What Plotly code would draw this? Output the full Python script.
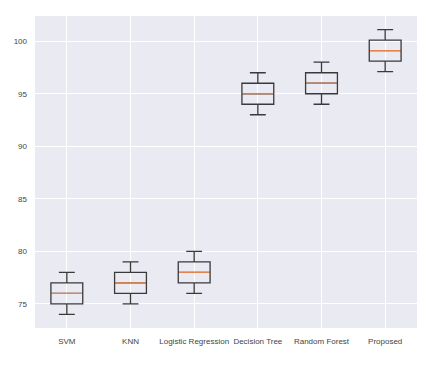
import plotly.graph_objects as go

categories = ["SVM", "KNN", "Logistic Regression", "Decision Tree", "Random Forest", "Proposed"]
lower_whisker = [74, 75, 76, 93, 94, 97.1]
q1 = [75, 76, 77, 94, 95, 98.1]
median = [76, 77, 78, 95, 96, 99.1]
q3 = [77, 78, 79, 96, 97, 100.1]
upper_whisker = [78, 79, 80, 97, 98, 101.1]
y_ticks = [75, 80, 85, 90, 95, 100]

fig = go.Figure()
fig.add_trace(go.Box(
    x=list(range(1, len(categories) + 1)),
    q1=q1, median=median, q3=q3,
    lowerfence=lower_whisker, upperfence=upper_whisker,
    width=0.5, whiskerwidth=0.5,
    fillcolor="rgba(0,0,0,0)",
    line=dict(color="#3a3a3a", width=1.3),
    boxpoints=False, showlegend=False,
))
# orange median lines
for i, m in enumerate(median):
    fig.add_shape(type="line", x0=i + 1 - 0.24, x1=i + 1 + 0.24, y0=m, y1=m,
                  xref="x", yref="y", line=dict(color="#f28c50", width=1.2))

fig.update_layout(
    width=429, height=357,
    margin=dict(l=27, r=20, t=8, b=37),
    paper_bgcolor="white",
    plot_bgcolor="#EAEAF2",
    font=dict(family="Liberation Sans, Arial, sans-serif", size=8, color="#444444"),
    xaxis=dict(range=[0.5, 6.5], tickvals=list(range(1, 7)), ticktext=categories,
               showgrid=True, gridcolor="white", gridwidth=1, zeroline=False,
               ticks="", ticklabelstandoff=7, automargin=False),
    yaxis=dict(range=[72.7, 102.4], tickvals=y_ticks,
               showgrid=True, gridcolor="white", gridwidth=1, zeroline=False,
               ticks="", ticklabelstandoff=7, automargin=False),
)
fig.write_html("out.html")
